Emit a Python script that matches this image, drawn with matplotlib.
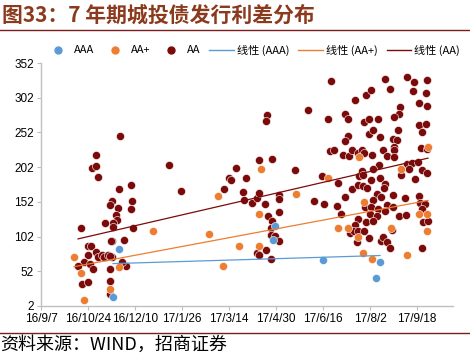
import matplotlib
matplotlib.use("Agg")
import matplotlib.pyplot as plt
import numpy as np
import pandas as pd
from matplotlib.lines import Line2D

plt.rcParams['font.family'] = ['Noto Sans CJK SC', 'DejaVu Sans']

base_date = pd.Timestamp("2016-09-07")

# Days after 2016-09-07 and issuance spread (bp)
aaa_days = [72, 78, 234, 232, 282, 339, 335]
aaa_vals = [15, 84, 117, 97, 68, 65, 42]

aap_days = [33, 40, 43, 78, 69, 112, 168, 182, 198, 177, 220, 218, 218, 318, 287,
            255, 323, 297, 307, 317, 322, 387, 360, 378, 386, 350, 386, 366, 331]
aap_vals = [73, 50, 10, 58, 26, 110, 105, 60, 89, 161, 200, 135, 88, 216, 186,
            163, 152, 114, 115, 102, 78, 231, 199, 135, 135, 115, 110, 76, 70]

aa_days = [79, 55, 51, 55, 57, 90, 78, 91, 90, 71, 69, 77, 75, 76, 64, 72, 72, 92, 40, 71,
           70, 83, 47, 50, 47, 55, 57, 61, 65, 63, 67, 71, 69, 43, 49, 37, 52, 69, 85, 81,
           69, 41, 47, 69,
           128, 140, 183, 188, 190, 195, 205, 202, 203, 211, 216, 218, 218, 226, 225, 231,
           224, 227, 231, 230, 230, 234, 238, 216, 218, 225, 230, 238, 238, 238,
           290, 267, 287, 314, 325, 330, 304, 307, 323, 328, 328, 307, 304, 289, 293, 302,
           308, 311, 317, 321, 323, 254, 281, 297, 311, 318, 321, 317, 322, 326, 304, 273,
           283, 296, 324, 300, 317, 325, 314, 309, 313, 317, 323, 316, 328,
           344, 366, 373, 386, 349, 372, 385, 378, 386, 359, 358, 353, 337, 378, 385, 381,
           357, 332, 339, 352, 356, 353, 353, 342, 346, 331, 353, 380, 386, 366, 371, 377,
           368, 381, 386, 360, 374, 338, 332, 322, 339, 330, 344, 343, 336, 340, 352, 364,
           378, 379, 384, 332, 330, 337, 346, 352, 344, 381, 329, 336, 358, 365, 382, 387,
           332, 351, 340, 342, 346, 349, 381]
aa_vals = [247, 220, 201, 204, 188, 176, 171, 153, 141, 153, 147, 143, 133, 126, 122, 122, 116, 114, 114, 96,
           95, 97, 89, 89, 76, 80, 72, 75, 73, 72, 76, 73, 74, 66, 63, 59, 56, 56, 59, 65,
           38, 34, 37, 20,
           205, 167, 171, 187, 183, 201, 187, 166, 154, 150, 157, 165, 212, 277, 268, 214,
           149, 132, 124, 114, 104, 103, 96, 79, 76, 82, 69, 162, 156, 138,
           326, 284, 272, 299, 306, 313, 278, 271, 267, 272, 250, 247, 240, 225, 227, 219,
           218, 226, 223, 226, 223, 198, 189, 179, 170, 189, 196, 176, 175, 172, 159, 153,
           149, 146, 145, 134, 127, 123, 118, 107, 110, 110, 110, 94, 100,
           329, 332, 325, 327, 315, 311, 309, 295, 290, 289, 278, 274, 271, 263, 264, 253,
           255, 255, 246, 242, 241, 231, 226, 227, 218, 220, 217, 229, 228, 206, 208, 209,
           200, 198, 193, 190, 185, 205, 199, 190, 186, 183, 178, 172, 163, 159, 162, 157,
           160, 151, 149, 155, 145, 141, 148, 145, 139, 142, 135, 131, 132, 133, 123, 124,
           124, 111, 96, 102, 94, 86, 85]

y_ticks = [2, 52, 102, 152, 202, 252, 302, 352]
x_tick_days = [0, 47, 94, 141, 188, 235, 282, 329, 376]

c_aaa = "#5B9BD5"
c_aap = "#ED7D31"
c_aa = "#7B0A0A"

fig = plt.figure(figsize=(4.70, 3.54), dpi=100)
ax = fig.add_axes([41 / 470, (354 - 306) / 354, 412 / 470, 243 / 354])

def to_dates(days):
    return base_date + pd.to_timedelta(np.array(days), unit="D")

def trend(days, vals, color):
    d = np.array(days, dtype=float)
    v = np.array(vals, dtype=float)
    k, b = np.polyfit(d, v, 1)
    xs = np.array([d.min(), d.max()])
    ax.plot(to_dates(xs), k * xs + b, color=color, lw=0.9, zorder=3)

ms = 34
ax.scatter(to_dates(aa_days), aa_vals, s=ms, color=c_aa, edgecolor="white", linewidth=0.4, zorder=2)
ax.scatter(to_dates(aap_days), aap_vals, s=ms, color=c_aap, edgecolor="white", linewidth=0.4, zorder=2)
ax.scatter(to_dates(aaa_days), aaa_vals, s=ms, color=c_aaa, edgecolor="white", linewidth=0.4, zorder=2)

trend(aaa_days, aaa_vals, c_aaa)
trend(aap_days, aap_vals, c_aap)
trend(aa_days, aa_vals, c_aa)

ax.set_ylim(2, 352)
ax.set_yticks(y_ticks)
ax.set_xlim(base_date, base_date + pd.Timedelta(days=412))
tick_dates = to_dates(x_tick_days)
ax.set_xticks(tick_dates)
ax.set_xticklabels([f"{t.year % 100}/{t.month}/{t.day}" for t in tick_dates])

for s in ["top", "right"]:
    ax.spines[s].set_visible(False)
for s in ["left", "bottom"]:
    ax.spines[s].set_color("#BFBFBF")
    ax.spines[s].set_linewidth(1.0)
ax.tick_params(axis="both", colors="#BFBFBF", labelcolor="black", labelsize=8.5,
               length=3, width=0.8, pad=2)
for lab in ax.get_xticklabels() + ax.get_yticklabels():
    lab.set_family(["Liberation Sans", "DejaVu Sans"])

# legend
handles = [
    Line2D([], [], marker="o", ls="none", color=c_aaa, markersize=5),
    Line2D([], [], marker="o", ls="none", color=c_aap, markersize=5),
    Line2D([], [], marker="o", ls="none", color=c_aa, markersize=5),
    Line2D([], [], color=c_aaa, lw=1),
    Line2D([], [], color=c_aap, lw=1),
    Line2D([], [], color=c_aa, lw=1),
]
labels = ["AAA", "AA+", "AA", "线性 (AAA)", "线性 (AA+)", "线性 (AA)"]
fig.legend(handles, labels, loc="center", bbox_to_anchor=(253 / 470, 1 - 50 / 354), ncol=6,
           frameon=False, fontsize=8, handlelength=2.2, handletextpad=0.3, columnspacing=0.8,
           borderpad=0)

# title and frame lines
fig.text(2 / 470, 1 - 15 / 354, "图33：7 年期城投债发行利差分布", fontsize=15, fontweight="bold",
         color="#8B3A1E", va="center", ha="left")
fig.add_artist(Line2D([0, 1], [1 - 29.5 / 354, 1 - 29.5 / 354], color="#7A1E1E", lw=1.0))
fig.add_artist(Line2D([0, 1], [1 - 332.5 / 354, 1 - 332.5 / 354], color="#7A1E1E", lw=1.0))
fig.text(0 / 470, 1 - 345 / 354, "资料来源：WIND，招商证券", fontsize=13, color="black",
         va="center", ha="left")

fig.savefig("out.png", dpi=100)
